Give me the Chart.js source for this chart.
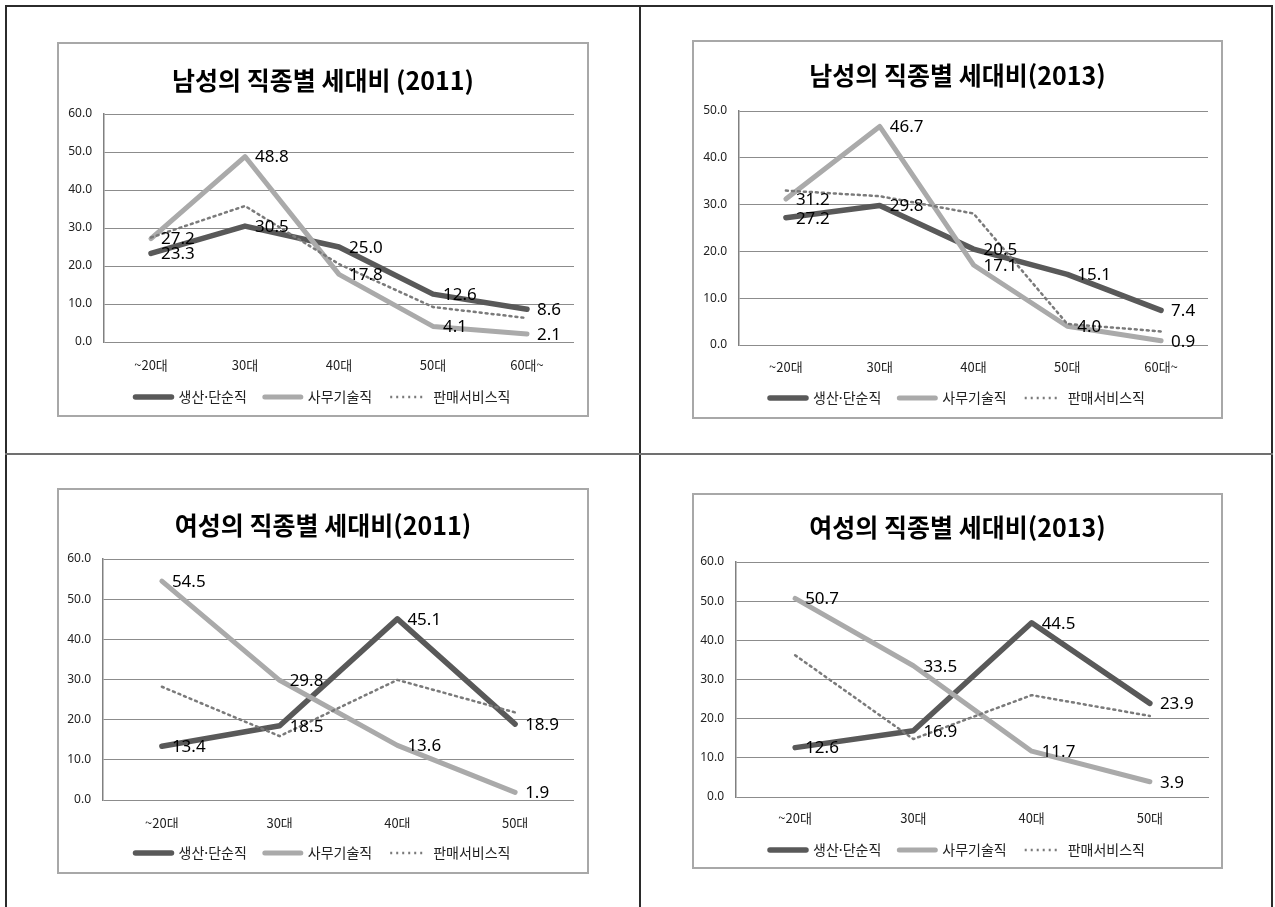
<!DOCTYPE html>
<html lang="ko">
<head>
<meta charset="utf-8">
<title>직종별 세대비</title>
<script src="https://cdn.jsdelivr.net/npm/chart.js@4/dist/chart.umd.min.js"></script>
<style>
  body { margin: 0; background: #fff; }
  #page { position: relative; width: 1275px; height: 907px; overflow: hidden; background: #fff; }
  .rule { position: absolute; background: #2b2b2b; }
  .box { position: absolute; box-sizing: border-box; border: 2px solid #a8a8a8; background: #fff; }
  .box canvas { display: block; }
</style>
</head>
<body>
<div id="page">
  <!-- 표 테두리 -->
  <div class="rule" style="left:5px; top:5px; width:1268px; height:2px;"></div>
  <div class="rule" style="left:5px; top:5px; width:2px; height:902px;"></div>
  <div class="rule" style="left:1271px; top:5px; width:2px; height:902px;"></div>
  <div class="rule" style="left:639px; top:5px; width:2px; height:902px;"></div>
  <div class="rule" style="left:5px; top:453px; width:1268px; height:2px; background:#707070;"></div>

  <div class="box" id="box1"><canvas id="chart1"></canvas></div>
  <div class="box" id="box2"><canvas id="chart2"></canvas></div>
  <div class="box" id="box3"><canvas id="chart3"></canvas></div>
  <div class="box" id="box4"><canvas id="chart4"></canvas></div>
</div>

<script>
// ==========================================
// 데이터
// ==========================================
const ageGroupsMale = ['~20대', '30대', '40대', '50대', '60대~'];
const ageGroupsFemale = ['~20대', '30대', '40대', '50대'];
const jobNames = ['생산·단순직', '사무기술직', '판매서비스직'];

// 남성 2011
const male2011Production = [23.3, 30.5, 25.0, 12.6, 8.6];
const male2011Office = [27.2, 48.8, 17.8, 4.1, 2.1];
const male2011Sales = [27.5, 35.8, 20.5, 9.2, 6.3];

// 남성 2013
const male2013Production = [27.2, 29.8, 20.5, 15.1, 7.4];
const male2013Office = [31.2, 46.7, 17.1, 4.0, 0.9];
const male2013Sales = [33.0, 31.8, 28.1, 4.5, 2.9];

// 여성 2011
const female2011Production = [13.4, 18.5, 45.1, 18.9];
const female2011Office = [54.5, 29.8, 13.6, 1.9];
const female2011Sales = [28.2, 15.9, 29.9, 21.8];

// 여성 2013
const female2013Production = [12.6, 16.9, 44.5, 23.9];
const female2013Office = [50.7, 33.5, 11.7, 3.9];
const female2013Sales = [36.2, 14.8, 26.0, 20.7];

const chartTitles = [
    '남성의 직종별 세대비 (2011)',
    '남성의 직종별 세대비(2013)',
    '여성의 직종별 세대비(2011)',
    '여성의 직종별 세대비(2013)'
];
const axisMax = [60, 50, 60, 60];

// ==========================================
// 배치 (페이지 좌표, px)
// ==========================================
const BORDER = 2;
const layouts = [
    { box: [57, 42, 589, 417],  plot: [104, 114, 574, 342], titleY: 80,  tickY: 365, legendY: 397 },
    { box: [692, 40, 1223, 419], plot: [739, 111, 1208, 345], titleY: 75,  tickY: 367, legendY: 398 },
    { box: [57, 488, 589, 874], plot: [103, 559, 574, 800], titleY: 525, tickY: 823, legendY: 853 },
    { box: [692, 493, 1223, 869], plot: [736, 562, 1209, 797], titleY: 527, tickY: 818, legendY: 850 }
];

// 색상
const colorProduction = '#595959';
const colorOffice = '#aaaaaa';
const colorSales = '#7a7a7a';

Chart.defaults.font.family = '"Noto Sans CJK KR", "Noto Sans", sans-serif';
Chart.defaults.color = '#222';

// 값 라벨 (점 오른쪽)
const valueLabels = {
    id: 'valueLabels',
    afterDatasetsDraw(chart) {
        const ctx = chart.ctx;
        ctx.save();
        ctx.font = '17px "Noto Sans", sans-serif';
        ctx.fillStyle = '#000';
        ctx.textAlign = 'left';
        ctx.textBaseline = 'middle';
        chart.data.datasets.forEach((ds, i) => {
            if (!ds.showValues) return;
            chart.getDatasetMeta(i).data.forEach((pt, j) => {
                ctx.fillText(ds.data[j].toFixed(1), pt.x + 10, pt.y + 1);
            });
        });
        ctx.restore();
    }
};

function makeDatasets(production, office, sales) {
    return [
        {
            label: jobNames[0], data: production, borderColor: colorProduction,
            borderWidth: 5.5, legendWidth: 5.5, order: 3, showValues: true
        },
        {
            label: jobNames[1], data: office, borderColor: colorOffice,
            borderWidth: 5, legendWidth: 5, order: 2, showValues: true
        },
        {
            label: jobNames[2], data: sales, borderColor: colorSales,
            borderWidth: 2.5, legendWidth: 2.5, borderDash: [2, 4], order: 1, showValues: false
        }
    ].map(ds => Object.assign(ds, {
        yAxisID: 'y',
        backgroundColor: ds.borderColor,
        pointRadius: 0,
        pointHoverRadius: 0,
        tension: 0,
        fill: false,
        borderJoinStyle: 'round',
        borderCapStyle: 'round'
    }));
}

function buildChart(index, labels, datasets) {
    const lay = layouts[index];
    const [bx0, by0, bx1, by1] = lay.box;
    const [px0, py0, px1, py1] = lay.plot;

    const boxEl = document.getElementById('box' + (index + 1));
    boxEl.style.left = bx0 + 'px';
    boxEl.style.top = by0 + 'px';
    boxEl.style.width = (bx1 - bx0) + 'px';
    boxEl.style.height = (by1 - by0) + 'px';

    // 캔버스 좌표 기준
    const ox = bx0 + BORDER;
    const oy = by0 + BORDER;
    const cw = bx1 - bx0 - 2 * BORDER;
    const ch = by1 - by0 - 2 * BORDER;
    const canvas = document.getElementById('chart' + (index + 1));
    canvas.width = cw;
    canvas.height = ch;

    const rightGap = cw - (px1 - ox);
    const yWidth = px0 - ox;
    const titleSize = 25;
    const titleLine = titleSize * 1.2;
    const titleTop = (lay.titleY - oy) - titleLine / 2;
    const titleBottom = (py0 - oy) - titleTop - titleLine;

    // 범례: 높이 = 글자 + padding + 10, 항목 중심 = top + padding + 글자/2
    const legendPad = 18;
    const legendFont = 14;
    const legendH = legendFont + legendPad + 10;
    const legendTop = (lay.legendY - oy) - (legendPad + legendFont / 2);
    const xHeight = legendTop - (py1 - oy);
    const padBottom = Math.max(0, ch - legendTop - legendH);

    return new Chart(canvas, {
        type: 'line',
        data: { labels: labels, datasets: datasets },
        options: {
            responsive: false,
            animation: false,
            devicePixelRatio: 1,
            layout: { padding: { left: 0, right: 0, top: 0, bottom: padBottom } },
            plugins: {
                title: {
                    display: true,
                    text: chartTitles[index],
                    color: '#000',
                    font: { size: titleSize, weight: 'bold' },
                    padding: { top: titleTop, bottom: titleBottom }
                },
                legend: {
                    position: 'bottom',
                    labels: {
                        usePointStyle: true,
                        pointStyleWidth: 36,
                        padding: legendPad,
                        color: '#222',
                        font: { size: legendFont },
                        generateLabels: c => c.data.datasets.map((ds, i) => ({
                            text: ds.label,
                            fillStyle: ds.borderColor,
                            strokeStyle: ds.borderColor,
                            lineWidth: ds.legendWidth,
                            lineDash: ds.borderDash || [],
                            lineCap: ds.borderDash ? 'butt' : 'round',
                            pointStyle: 'line',
                            hidden: false,
                            datasetIndex: i,
                            fontColor: '#222'
                        }))
                    }
                },
                tooltip: { enabled: false }
            },
            scales: {
                x: {
                    offset: true,
                    grid: { display: false, drawTicks: false, offset: true },
                    border: { display: false },
                    ticks: {
                        padding: (lay.tickY - py1) - 6.5,
                        font: { size: 13, lineHeight: 1 },
                        color: '#222',
                        maxRotation: 0
                    },
                    afterFit: s => { s.height = xHeight; }
                },
                y: {
                    min: 0,
                    max: axisMax[index],
                    grid: { color: '#8c8c8c', lineWidth: 1, drawTicks: false },
                    border: { display: true, color: '#808080', width: 1.5 },
                    ticks: {
                        stepSize: 10,
                        padding: 12,
                        font: { family: '"Noto Sans", sans-serif', size: 12 },
                        color: '#222',
                        callback: v => Number(v).toFixed(1)
                    },
                    afterFit: s => { s.width = yWidth; }
                },
                // 오른쪽 여백용 빈 축 (제목·범례가 상자 중앙에 오도록)
                yRight: {
                    position: 'right',
                    grid: { display: false, drawTicks: false },
                    border: { display: false },
                    ticks: { display: false },
                    afterFit: s => { s.width = rightGap; }
                }
            }
        },
        plugins: [valueLabels]
    });
}

// ==========================================
// 차트 생성
// ==========================================
buildChart(0, ageGroupsMale, makeDatasets(male2011Production, male2011Office, male2011Sales));
buildChart(1, ageGroupsMale, makeDatasets(male2013Production, male2013Office, male2013Sales));
buildChart(2, ageGroupsFemale, makeDatasets(female2011Production, female2011Office, female2011Sales));
buildChart(3, ageGroupsFemale, makeDatasets(female2013Production, female2013Office, female2013Sales));
</script>
</body>
</html>
